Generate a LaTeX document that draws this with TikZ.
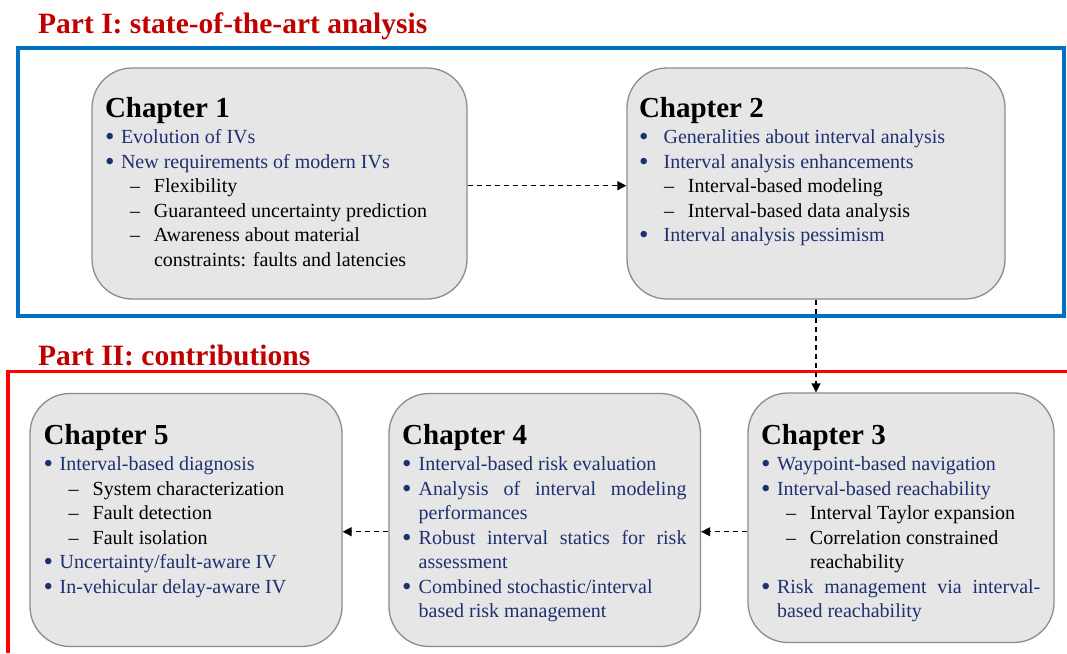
\documentclass[tikz,border=0pt]{standalone}
\usepackage{fontspec}
\setmainfont{Liberation Serif}
\usetikzlibrary{arrows.meta}
\definecolor{navy}{HTML}{1F3070}
\definecolor{partred}{HTML}{C00000}
\definecolor{frameblue}{HTML}{0070C0}
\definecolor{framered}{HTML}{FF0000}
\definecolor{boxfill}{HTML}{E6E6E6}
\definecolor{boxline}{HTML}{8C8C8C}
\newcommand\bodyfont{\fontsize{20pt}{24.5pt}\selectfont\parskip=0pt\parindent=0pt\tolerance=10000\hbadness=10000\hyphenpenalty=10000}
\newcommand\bigbullet{\raisebox{-2.2pt}{\fontsize{27pt}{27pt}\selectfont\textbullet}}
\newcommand\bitem[2][16pt]{\par\hangindent=#1\relax\hangafter=1\noindent\makebox[#1][l]{\color{navy}\bigbullet}{\color{navy}#2}}
\newcommand\ditem[1]{\par\hangindent=49pt\relax\hangafter=1\noindent\hspace*{25pt}\makebox[24pt][l]{\textendash}#1}
\newcommand\chtitle[1]{\noindent{\fontsize{29pt}{29pt}\selectfont\bfseries #1}\par\vspace{1.5pt}}
\tikzset{
  chbox/.style={draw=boxline, line width=1.3pt, fill=boxfill, rounded corners=40pt, inner sep=0pt},
  chtext/.style={anchor=base west, inner sep=0pt, outer sep=0pt},
  parttitle/.style={anchor=base west, inner sep=0pt, text=partred, font=\fontsize{29.5pt}{30pt}\selectfont\bfseries},
  conn/.style={line width=1.3pt, dash pattern=on 5pt off 4pt, -{Triangle[length=9pt,width=9pt]}},
  bluefr/.style={draw=frameblue, line width=4pt},
  redfr/.style={draw=framered, line width=3.5pt}
}
\begin{document}
\begin{tikzpicture}[x=1pt,y=-1pt]
\useasboundingbox (0,0) rectangle (1067,653);
% frames
\draw[bluefr] (18,47.5) rectangle (1064,316);
\draw[redfr] (8,653) -- (8,371.7) -- (1067,371.7);
% part titles
\node[parttitle] (p1) at (38,33.3) {Part I: state-of-the-art analysis};
\node[parttitle] (p2) at (38,365) {Part II: contributions};
% boxes
\node[chbox, minimum width=375pt, minimum height=231pt] (ch1) at (279.5,183.5) {};
\node[chbox, minimum width=378pt, minimum height=231pt] (ch2) at (816,183.5) {};
\node[chbox, minimum width=312pt, minimum height=253pt] (ch5) at (186,520) {};
\node[chbox, minimum width=311.5pt, minimum height=253pt] (ch4) at (544.75,520) {};
\node[chbox, minimum width=306pt, minimum height=249.5pt] (ch3) at (901,517.75) {};
% connectors
\draw[conn] ([yshift=-2.2pt]ch1.east) -- ([yshift=-2.2pt]ch1.east -| ch2.west);
\draw[conn] (ch2.south) -- (ch2.south |- ch3.north);
\draw[conn] ([yshift=-14pt]ch3.west) -- ([yshift=-14pt]ch3.west -| ch4.east);
\draw[conn] ([yshift=-11.7pt]ch4.west) -- ([yshift=-11.7pt]ch4.west -| ch5.east);
% texts
\node[chtext] (ch1t) at (105,117.5) {\begin{minipage}[t]{340pt}\bodyfont
\chtitle{Chapter 1}
\bitem{Evolution of IVs}
\bitem{New requirements of modern IVs}
\ditem{Flexibility}
\ditem{Guaranteed uncertainty prediction}
\ditem{Awareness about material\newline constraints: faults and latencies}
\end{minipage}};
\node[chtext] (ch2t) at (639,117.5) {\begin{minipage}[t]{355pt}\bodyfont
\chtitle{Chapter 2}
\bitem[24.6pt]{Generalities about interval analysis}
\bitem[24.6pt]{Interval analysis enhancements}
\ditem{Interval-based modeling}
\ditem{Interval-based data analysis}
\bitem[24.6pt]{Interval analysis pessimism}
\end{minipage}};
\node[chtext] (ch5t) at (43.7,444.5) {\begin{minipage}[t]{290pt}\bodyfont
\chtitle{Chapter 5}
\bitem{Interval-based diagnosis}
\ditem{System characterization}
\ditem{Fault detection}
\ditem{Fault isolation}
\bitem{Uncertainty/fault-aware IV}
\bitem{In-vehicular delay-aware IV}
\end{minipage}};
\node[chtext] (ch4t) at (402.2,444.5) {\begin{minipage}[t]{284.3pt}\bodyfont
\chtitle{Chapter 4}
\bitem[16.5pt]{Interval-based risk evaluation}
\bitem[16.5pt]{Analysis of interval modeling\linebreak performances}
\bitem[16.5pt]{Robust interval statics for risk\linebreak assessment}
\bitem[16.5pt]{Combined stochastic/interval\newline based risk management}
\end{minipage}};
\node[chtext] (ch3t) at (761,444.5) {\begin{minipage}[t]{279.3pt}\bodyfont
\chtitle{Chapter 3}
\bitem{Waypoint-based navigation}
\bitem{Interval-based reachability}
\ditem{Interval Taylor expansion}
\ditem{Correlation constrained\newline reachability}
\bitem{Risk management via interval-\linebreak based reachability}
\end{minipage}};
\end{tikzpicture}
\end{document}
